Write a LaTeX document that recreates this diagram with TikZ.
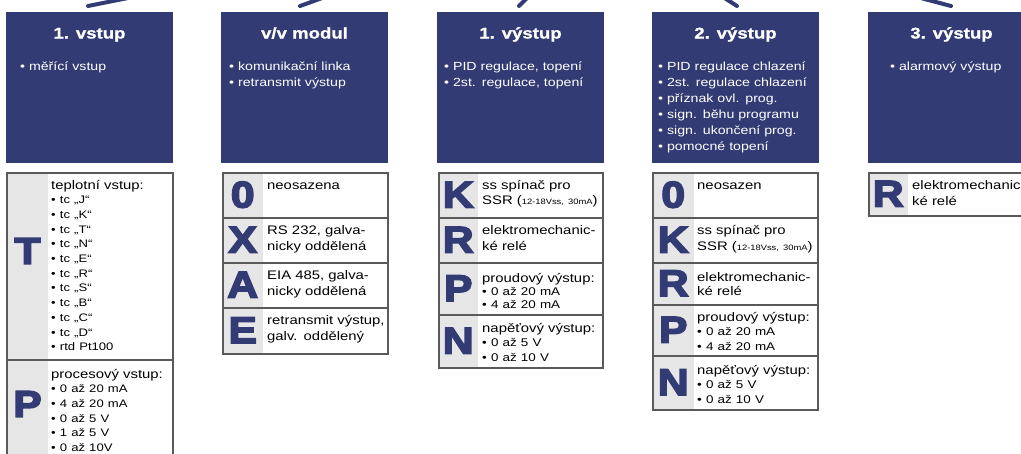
\documentclass[tikz,border=0pt]{standalone}
\usepackage{fontspec}
\setmainfont{Liberation Sans}[FakeStretch=1.2]
\newfontfamily\bigfont{Liberation Sans Bold}[FakeStretch=1.15,FakeBold=4.5]
\newfontfamily\titlefont{Liberation Sans Bold}[FakeStretch=1.2,FakeBold=1]
\definecolor{navy}{RGB}{51,59,116}
\definecolor{cellgray}{RGB}{230,230,230}
\definecolor{rule}{RGB}{90,90,90}
\newcommand\xs{\fontsize{10.9}{14.7}\selectfont}
\tikzset{
  hdr/.style={fill=navy, draw=none, minimum width=167pt, minimum height=151pt, anchor=north west, inner sep=0pt},
  title/.style={text=white, font=\titlefont\fontsize{15.5}{18}\selectfont, anchor=base, inner sep=0pt},
  hlist/.style={text=white, font=\fontsize{11.8}{16}\selectfont, anchor=base west, inner sep=0pt, text width=160pt, align=left},
  graycell/.style={fill=cellgray, draw=none, anchor=north west, inner sep=0pt},
  rowbox/.style={draw=rule, line width=1.5pt, fill=none, anchor=north west, inner sep=0pt},
  bigletter/.style={text=navy, font=\bigfont\fontsize{37}{37}\selectfont, inner sep=0pt, anchor=center},
  ctext/.style={text=black, font=\fontsize{12.4}{15}\selectfont, anchor=base west, inner sep=0pt, text width=140pt, align=left},
  feed/.style={draw=navy, line width=4pt, line cap=round},
}
\newcommand\trow[6]{% name, x, ytop, height, width, graywidth
  \node[graycell, minimum width=#6pt, minimum height=#4pt] (#1g) at (#2,#3) {};
  \node[rowbox, minimum width=#5pt, minimum height=#4pt] (#1) at (#2,#3) {};
}
\begin{document}
\begin{tikzpicture}[x=1pt,y=-1pt]
\useasboundingbox (0,0) rectangle (1021,453);
\clip (0,0) rectangle (1021,453);

% feed lines at the top
\coordinate (f1a) at (88,6);   \coordinate (f1b) at (133,-3);
\coordinate (f2a) at (300,6);  \coordinate (f2b) at (325,-3);
\coordinate (f3a) at (519,6);  \coordinate (f3b) at (528,-3);
\coordinate (f4a) at (737,6);  \coordinate (f4b) at (723,-3);
\coordinate (f5a) at (951,6);  \coordinate (f5b) at (917,-3);
\draw[feed] (f1a) -- (f1b);
\draw[feed] (f2a) -- (f2b);
\draw[feed] (f3a) -- (f3b);
\draw[feed] (f4a) -- (f4b);
\draw[feed] (f5a) -- (f5b);

% header boxes
\node[hdr] (h1) at (6,12) {};
\node[hdr] (h2) at (221,12) {};
\node[hdr] (h3) at (437,12) {};
\node[hdr] (h4) at (652,12) {};
\node[hdr] (h5) at (868,12) {};

\node[title] (h1t) at (89.5,38.5) {1. vstup};
\node[title] (h2t) at (304.5,38.5) {v/v modul};
\node[title] (h3t) at (520.5,38.5) {1. výstup};
\node[title] (h4t) at (735.5,38.5) {2. výstup};
\node[title] (h5t) at (951.5,38.5) {3. výstup};

\node[hlist] (h1l) at (20,70) {• měřící vstup};
\node[hlist] (h2l) at (229,70) {• komunikační linka\\• retransmit výstup};
\node[hlist] (h3l) at (444,70) {• PID regulace, topení\\• 2st. regulace, topení};
\node[hlist] (h4l) at (658,70) {• PID regulace chlazení\\• 2st. regulace chlazení\\• příznak ovl. prog.\\• sign. běhu programu\\• sign. ukončení prog.\\• pomocné topení};
\node[hlist] (h5l) at (890,70) {• alarmový výstup};

% column 1
\trow{c1t}{6}{172}{187}{166}{42}
\trow{c1p}{6}{359}{120}{166}{42}
\node[bigletter] (c1tL) at (27.5,251) {T};
\node[bigletter] (c1pL) at (27.5,404) {P};
\node[ctext, font=\fontsize{12.4}{14.7}\selectfont] (c1tx) at (51,189) {teplotní vstup:\\\xs • tc „J“\\• tc „K“\\• tc „T“\\• tc „N“\\• tc „E“\\• tc „R“\\• tc „S“\\• tc „B“\\• tc „C“\\• tc „D“\\• rtd Pt100};
\node[ctext, font=\fontsize{12.4}{14.7}\selectfont] (c1px) at (51,378) {procesový vstup:\\\xs • 0 až 20 mA\\• 4 až 20 mA\\• 0 až 5 V\\• 1 až 5 V\\• 0 až 10V};

% column 2
\trow{c2a}{222}{172}{45}{165}{41}
\trow{c2b}{222}{217}{45}{165}{41}
\trow{c2c}{222}{262}{45}{165}{41}
\trow{c2d}{222}{307}{46}{165}{41}
\node[bigletter] (c2aL) at (c2ag.center) {0};
\node[bigletter] (c2bL) at (c2bg.center) {X};
\node[bigletter] (c2cL) at (c2cg.center) {A};
\node[bigletter] (c2dL) at (c2dg.center) {E};
\node[ctext] (c2ax) at (267,189) {neosazena};
\node[ctext, font=\fontsize{12.4}{16}\selectfont] (c2bx) at (267,234) {RS 232, galva-\\nicky oddělená};
\node[ctext, font=\fontsize{12.4}{16}\selectfont] (c2cx) at (267,279) {EIA 485, galva-\\nicky oddělená};
\node[ctext, font=\fontsize{12.4}{16}\selectfont] (c2dx) at (267,324) {retransmit výstup,\\galv. oddělený};

% column 3
\trow{c3a}{438}{172}{45}{164}{40}
\trow{c3b}{438}{217}{45}{164}{40}
\trow{c3c}{438}{262}{52}{164}{40}
\trow{c3d}{438}{314}{53}{164}{40}
\node[bigletter] (c3aL) at (c3ag.center) {K};
\node[bigletter] (c3bL) at (c3bg.center) {R};
\node[bigletter] (c3cL) at (c3cg.center) {P};
\node[bigletter] (c3dL) at (c3dg.center) {N};
\node[ctext] (c3ax) at (482,189) {ss spínač pro\\SSR ({\fontsize{7.8}{8}\selectfont 12-18Vss, 30mA})};
\node[ctext, font=\fontsize{12.4}{16}\selectfont] (c3bx) at (482,234) {elektromechanic-\\ké relé};
\node[ctext, font=\fontsize{12.4}{13.2}\selectfont] (c3cx) at (482,282) {proudový výstup:\\\fontsize{11.2}{13.2}\selectfont • 0 až 20 mA\\• 4 až 20 mA};
\node[ctext, font=\fontsize{12.4}{14.5}\selectfont] (c3dx) at (482,332) {napěťový výstup:\\\fontsize{11.2}{14.5}\selectfont • 0 až 5 V\\• 0 až 10 V};

% column 4
\trow{c4a}{652}{172}{45}{165}{42}
\trow{c4b}{652}{217}{45}{165}{42}
\trow{c4c}{652}{262}{42}{165}{42}
\trow{c4d}{652}{304}{51}{165}{42}
\trow{c4e}{652}{355}{54}{165}{42}
\node[bigletter] (c4aL) at (c4ag.center) {0};
\node[bigletter] (c4bL) at (c4bg.center) {K};
\node[bigletter] (c4cL) at (c4cg.center) {R};
\node[bigletter] (c4dL) at (c4dg.center) {P};
\node[bigletter] (c4eL) at (c4eg.center) {N};
\node[ctext] (c4ax) at (697,189) {neosazen};
\node[ctext, font=\fontsize{12.4}{15.5}\selectfont] (c4bx) at (697,234.5) {ss spínač pro\\SSR ({\fontsize{7.8}{8}\selectfont 12-18Vss, 30mA})};
\node[ctext, font=\fontsize{12.4}{14}\selectfont] (c4cx) at (697,281) {elektromechanic-\\ké relé};
\node[ctext, font=\fontsize{12.4}{14.5}\selectfont] (c4dx) at (697,321) {proudový výstup:\\\fontsize{11.2}{14.5}\selectfont • 0 až 20 mA\\• 4 až 20 mA};
\node[ctext, font=\fontsize{12.4}{14.5}\selectfont] (c4ex) at (697,374) {napěťový výstup:\\\fontsize{11.2}{14.5}\selectfont • 0 až 5 V\\• 0 až 10 V};

% column 5
\trow{c5a}{868}{172}{43}{170}{40}
\node[bigletter] (c5aL) at (c5ag.center) {R};
\node[ctext, font=\fontsize{12.4}{16}\selectfont] (c5ax) at (912,189) {elektromechanic-\\ké relé};
\end{tikzpicture}
\end{document}
